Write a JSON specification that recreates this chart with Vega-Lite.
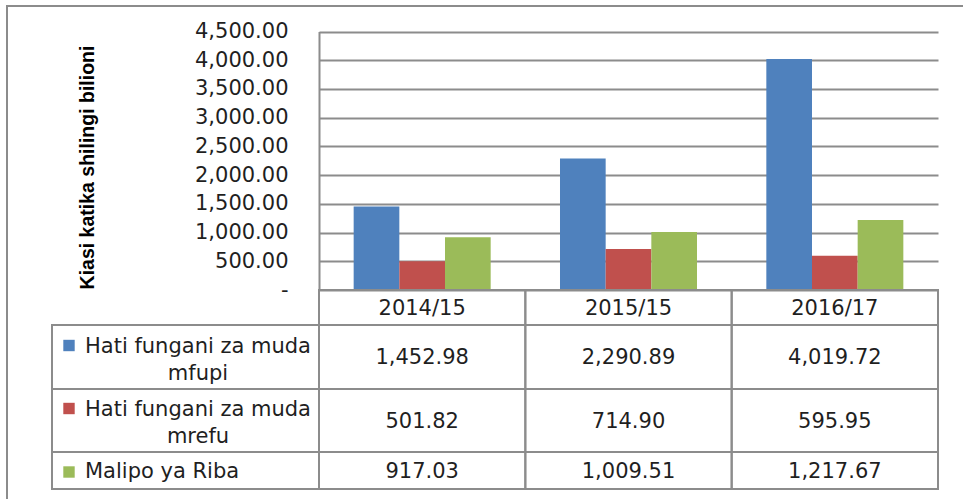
{
  "$schema": "https://vega.github.io/schema/vega-lite/v6.json",
  "width": 958,
  "height": 495,
  "autosize": "none",
  "padding": {"left": 7, "top": 6, "right": -2, "bottom": -2},
  "background": "white",
  "config": {
    "view": {"stroke": "#8c8c8c", "strokeWidth": 2},
    "text": {"font": "DejaVu Sans", "fontSize": 21, "color": "#1f1f1f"}
  },
  "datasets": {
    "vals": [
      {"category": "2014/15", "series": "Hati fungani za muda mfupi", "value": 1452.98},
      {"category": "2015/15", "series": "Hati fungani za muda mfupi", "value": 2290.89},
      {"category": "2016/17", "series": "Hati fungani za muda mfupi", "value": 4019.72},
      {"category": "2014/15", "series": "Hati fungani za muda mrefu", "value": 501.82},
      {"category": "2015/15", "series": "Hati fungani za muda mrefu", "value": 714.90},
      {"category": "2016/17", "series": "Hati fungani za muda mrefu", "value": 595.95},
      {"category": "2014/15", "series": "Malipo ya Riba", "value": 917.03},
      {"category": "2015/15", "series": "Malipo ya Riba", "value": 1009.51},
      {"category": "2016/17", "series": "Malipo ya Riba", "value": 1217.67}
    ],
    "years": [
      {"category": "2014/15"},
      {"category": "2015/15"},
      {"category": "2016/17"}
    ],
    "series": [
      {"series": "Hati fungani za muda mfupi", "label": "Hati fungani za muda\nmfupi"},
      {"series": "Hati fungani za muda mrefu", "label": "Hati fungani za muda\nmrefu"},
      {"series": "Malipo ya Riba", "label": "Malipo ya Riba"}
    ]
  },
  "layer": [
    {
      "data": {"name": "vals"},
      "mark": {"type": "bar"},
      "encoding": {
        "x": {"field": "category", "type": "nominal", "sort": null,
          "scale": {"domain": ["2014/15", "2015/15", "2016/17"], "range": [312, 931], "paddingInner": 0.336, "paddingOuter": 0.168},
          "axis": null},
        "xOffset": {"field": "series", "type": "nominal", "sort": null,
          "scale": {"domain": ["Hati fungani za muda mfupi", "Hati fungani za muda mrefu", "Malipo ya Riba"], "paddingInner": 0, "paddingOuter": 0}},
        "y": {"field": "value", "type": "quantitative",
          "scale": {"domain": [0, 4500], "range": [284, 25.5], "nice": false, "zero": true},
          "axis": {
            "values": [0, 500, 1000, 1500, 2000, 2500, 3000, 3500, 4000, 4500],
            "offset": -312,
            "ticks": false, "tickSize": 0,
            "domain": true, "domainColor": "#8c8c8c", "domainWidth": 2,
            "grid": true, "gridColor": "#8c8c8c", "gridWidth": 2,
            "labelExpr": "datum.value === 0 ? '-\u00a0\u00a0' : format(datum.value, ',.2f')",
            "labelPadding": 31, "labelFlush": false, "labelOverlap": false,
            "labelFont": "DejaVu Sans", "labelFontSize": 21, "labelColor": "#1f1f1f",
            "title": "Kiasi katika shilingi bilioni",
            "titleFont": "Liberation Sans", "titleFontWeight": "bold", "titleFontSize": 19.5, "titleColor": "#000000",
            "titleX": -232, "titleY": 161, "titleAngle": -90, "titleAlign": "center", "titleBaseline": "middle"
          }},
        "color": {"field": "series", "type": "nominal",
          "scale": {"domain": ["Hati fungani za muda mfupi", "Hati fungani za muda mrefu", "Malipo ya Riba"], "range": ["#4F81BD", "#C0504D", "#9BBB59"]},
          "legend": null}
      }
    },
    {
      "data": {"name": "years"},
      "encoding": {
        "x": {"field": "category", "type": "nominal", "sort": null,
          "scale": {"domain": ["2014/15", "2015/15", "2016/17"], "range": [312, 931], "paddingInner": 0, "paddingOuter": 0},
          "axis": null},
        "y": {"datum": "header", "type": "nominal",
          "scale": {"type": "band", "range": [284, 319], "paddingInner": 0, "paddingOuter": 0},
          "axis": null}
      },
      "layer": [
        {"mark": {"type": "rect", "fill": "white", "fillOpacity": 0, "stroke": "#8c8c8c", "strokeWidth": 2}},
        {"mark": {"type": "text", "baseline": "middle", "align": "center", "dy": 1},
          "encoding": {"text": {"field": "category", "type": "nominal"}}}
      ]
    },
    {
      "layer": [
        {
          "data": {"name": "vals"},
          "transform": [{"filter": "datum.series === 'Hati fungani za muda mfupi'"}],
          "encoding": {
            "x": {"field": "category", "type": "nominal", "sort": null,
              "scale": {"domain": ["2014/15", "2015/15", "2016/17"], "range": [312, 931], "paddingInner": 0, "paddingOuter": 0},
              "axis": null},
            "y": {"field": "series", "type": "nominal",
              "scale": {"type": "band", "range": [319, 383], "paddingInner": 0, "paddingOuter": 0}, "axis": null}
          },
          "layer": [
            {"mark": {"type": "rect", "fill": "white", "fillOpacity": 0, "stroke": "#8c8c8c", "strokeWidth": 2}},
            {"mark": {"type": "text", "baseline": "middle", "align": "center", "dy": 1},
              "encoding": {"text": {"field": "value", "type": "quantitative", "format": ",.2f"}}}
          ]
        },
        {
          "data": {"name": "series"},
          "transform": [{"filter": "datum.series === 'Hati fungani za muda mfupi'"}],
          "encoding": {
            "x": {"field": "series", "type": "nominal",
              "scale": {"type": "band", "range": [45, 312], "paddingInner": 0, "paddingOuter": 0}, "axis": null},
            "y": {"field": "series", "type": "nominal",
              "scale": {"type": "band", "range": [319, 383], "paddingInner": 0, "paddingOuter": 0}, "axis": null}
          },
          "layer": [
            {"mark": {"type": "rect", "fill": "white", "fillOpacity": 0, "stroke": "#8c8c8c", "strokeWidth": 2}},
            {"mark": {"type": "point", "shape": "square", "filled": true, "size": 130, "opacity": 1, "xOffset": 17, "yOffset": -11.5},
              "encoding": {"x": {"field": "series", "type": "nominal", "bandPosition": 0}, "color": {"field": "series", "type": "nominal", "legend": null}}},
            {"mark": {"type": "text", "baseline": "middle", "align": "center", "lineBreak": "\n", "lineHeight": 27, "xOffset": 12.5, "dy": -10.5},
              "encoding": {"text": {"field": "label", "type": "nominal"}}}
          ]
        }
      ],
      "resolve": {"scale": {"x": "independent"}}
    },
    {
      "layer": [
        {
          "data": {"name": "vals"},
          "transform": [{"filter": "datum.series === 'Hati fungani za muda mrefu'"}],
          "encoding": {
            "x": {"field": "category", "type": "nominal", "sort": null,
              "scale": {"domain": ["2014/15", "2015/15", "2016/17"], "range": [312, 931], "paddingInner": 0, "paddingOuter": 0},
              "axis": null},
            "y": {"field": "series", "type": "nominal",
              "scale": {"type": "band", "range": [383, 446], "paddingInner": 0, "paddingOuter": 0}, "axis": null}
          },
          "layer": [
            {"mark": {"type": "rect", "fill": "white", "fillOpacity": 0, "stroke": "#8c8c8c", "strokeWidth": 2}},
            {"mark": {"type": "text", "baseline": "middle", "align": "center", "dy": 1},
              "encoding": {"text": {"field": "value", "type": "quantitative", "format": ",.2f"}}}
          ]
        },
        {
          "data": {"name": "series"},
          "transform": [{"filter": "datum.series === 'Hati fungani za muda mrefu'"}],
          "encoding": {
            "x": {"field": "series", "type": "nominal",
              "scale": {"type": "band", "range": [45, 312], "paddingInner": 0, "paddingOuter": 0}, "axis": null},
            "y": {"field": "series", "type": "nominal",
              "scale": {"type": "band", "range": [383, 446], "paddingInner": 0, "paddingOuter": 0}, "axis": null}
          },
          "layer": [
            {"mark": {"type": "rect", "fill": "white", "fillOpacity": 0, "stroke": "#8c8c8c", "strokeWidth": 2}},
            {"mark": {"type": "point", "shape": "square", "filled": true, "size": 130, "opacity": 1, "xOffset": 17, "yOffset": -12},
              "encoding": {"x": {"field": "series", "type": "nominal", "bandPosition": 0}, "color": {"field": "series", "type": "nominal", "legend": null}}},
            {"mark": {"type": "text", "baseline": "middle", "align": "center", "lineBreak": "\n", "lineHeight": 27, "xOffset": 12.5, "dy": -11},
              "encoding": {"text": {"field": "label", "type": "nominal"}}}
          ]
        }
      ],
      "resolve": {"scale": {"x": "independent"}}
    },
    {
      "layer": [
        {
          "data": {"name": "vals"},
          "transform": [{"filter": "datum.series === 'Malipo ya Riba'"}],
          "encoding": {
            "x": {"field": "category", "type": "nominal", "sort": null,
              "scale": {"domain": ["2014/15", "2015/15", "2016/17"], "range": [312, 931], "paddingInner": 0, "paddingOuter": 0},
              "axis": null},
            "y": {"field": "series", "type": "nominal",
              "scale": {"type": "band", "range": [446, 483], "paddingInner": 0, "paddingOuter": 0}, "axis": null}
          },
          "layer": [
            {"mark": {"type": "rect", "fill": "white", "fillOpacity": 0, "stroke": "#8c8c8c", "strokeWidth": 2}},
            {"mark": {"type": "text", "baseline": "middle", "align": "center", "dy": 1},
              "encoding": {"text": {"field": "value", "type": "quantitative", "format": ",.2f"}}}
          ]
        },
        {
          "data": {"name": "series"},
          "transform": [{"filter": "datum.series === 'Malipo ya Riba'"}],
          "encoding": {
            "x": {"field": "series", "type": "nominal",
              "scale": {"type": "band", "range": [45, 312], "paddingInner": 0, "paddingOuter": 0}, "axis": null},
            "y": {"field": "series", "type": "nominal",
              "scale": {"type": "band", "range": [446, 483], "paddingInner": 0, "paddingOuter": 0}, "axis": null}
          },
          "layer": [
            {"mark": {"type": "rect", "fill": "white", "fillOpacity": 0, "stroke": "#8c8c8c", "strokeWidth": 2}},
            {"mark": {"type": "point", "shape": "square", "filled": true, "size": 130, "opacity": 1, "xOffset": 17, "yOffset": 1.5},
              "encoding": {"x": {"field": "series", "type": "nominal", "bandPosition": 0}, "color": {"field": "series", "type": "nominal", "legend": null}}},
            {"mark": {"type": "text", "baseline": "middle", "align": "left", "xOffset": 33, "dy": 1},
              "encoding": {"x": {"field": "series", "type": "nominal", "bandPosition": 0}, "text": {"field": "label", "type": "nominal"}}}
          ]
        }
      ],
      "resolve": {"scale": {"x": "independent"}}
    }
  ],
  "resolve": {"scale": {"x": "independent", "y": "independent"}, "axis": {"x": "independent", "y": "independent"}}
}
